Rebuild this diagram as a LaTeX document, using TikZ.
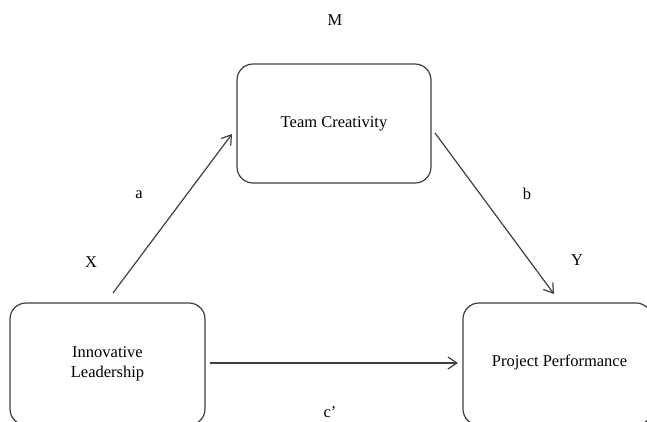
\documentclass[tikz,border=0pt]{standalone}
\usepackage{fontspec}
\setmainfont{Liberation Serif}
\usetikzlibrary{arrows.meta}
\definecolor{linegray}{HTML}{404040}
\tikzset{
  varbox/.style={draw=linegray, line width=1.2pt, rounded corners=16pt, rectangle,
    align=center, font=\fontsize{16.5}{20}\selectfont, inner sep=0pt},
  lbl/.style={font=\fontsize{16.5}{20}\selectfont, inner sep=0pt},
  path arrow/.style={draw=linegray, line width=1.2pt, -{Straight Barb[length=9pt,width=12pt,line width=1.2pt]}}
}
\begin{document}
\begin{tikzpicture}[x=1pt,y=-1pt]
\useasboundingbox (0,0) rectangle (647,421);
\fill[white] (0,0) rectangle (647,421);
\clip (0,0) rectangle (647,421);
\node[varbox, minimum width=194pt, minimum height=119pt] (tc) at (334,123.5) {Team Creativity};
\node[varbox, minimum width=195pt, minimum height=122pt] (il) at (107.5,364) {Innovative\\Leadership};
\node[varbox, minimum width=189pt, minimum height=122pt] (pp) at (557.5,364) {};
\node[lbl] (pptext) at (559.5,362) {Project Performance};
\node[lbl] (m) at (335,20) {M};
\node[lbl] (x) at (91,262) {X};
\node[lbl] (y) at (577,260) {Y};
\node[lbl] (a) at (139,195) {a};
\node[lbl] (b) at (527,194) {b};
\node[lbl] (c) at (330,412) {c’};
\coordinate (aS) at (113,293);
\coordinate (aE) at (232,134);
\coordinate (bS) at (435,133);
\coordinate (bE) at (554,294);
\coordinate (cS) at (210,363);
\coordinate (cE) at (458,363);
\draw[path arrow] (aS) -- (aE);
\draw[path arrow] (bS) -- (bE);
\draw[path arrow] (cS) -- (cE);
\end{tikzpicture}
\end{document}
